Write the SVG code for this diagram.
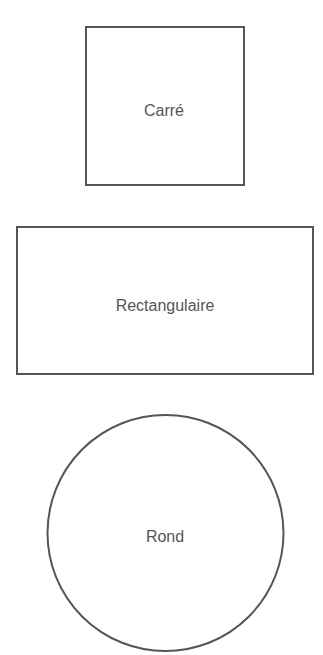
<svg xmlns="http://www.w3.org/2000/svg" width="323" height="655" viewBox="0 0 323 655">
<style>
.shape{fill:#fff;stroke:#555;stroke-width:2}
.lbl{font-family:"Liberation Sans",Arial,sans-serif;font-size:16px;fill:#555;text-anchor:middle;dominant-baseline:central}
</style>
<rect width="323" height="655" fill="#fff"/>
<g id="carre">
<rect class="shape" x="86" y="27" width="158" height="158"/>
<text class="lbl" x="164" y="110">Carré</text>
</g>
<g id="rectangulaire">
<rect class="shape" x="17" y="227" width="296" height="147"/>
<text class="lbl" x="165" y="305">Rectangulaire</text>
</g>
<g id="rond">
<circle class="shape" cx="165.5" cy="533" r="118"/>
<text class="lbl" x="165" y="536">Rond</text>
</g>
<g id="connectors"/>
</svg>
